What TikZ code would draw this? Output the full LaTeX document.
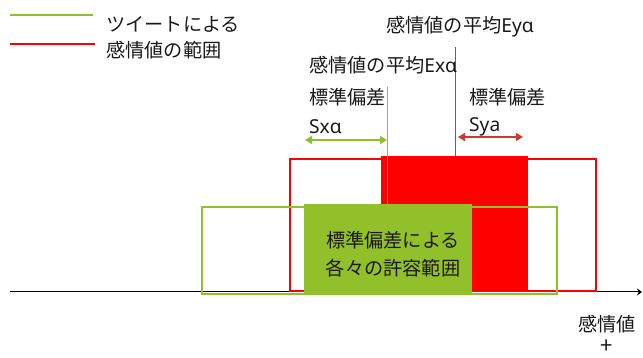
\documentclass[tikz,border=0pt]{standalone}
\usepackage{fontspec}
\setmainfont{Noto Sans CJK JP}
\newfontfamily\lt{Noto Sans}
\usetikzlibrary{arrows.meta}
\definecolor{grn}{RGB}{146,192,42}
\definecolor{rd}{RGB}{255,0,0}
\definecolor{drd}{RGB}{200,60,45}
\definecolor{txtc}{RGB}{25,25,25}
\begin{document}
\begin{tikzpicture}[x=1pt,y=-1pt,
  txt/.style={font=\fontsize{19.2}{22}\selectfont, inner sep=0pt, anchor=west, text=txtc},
  ctxt/.style={txt, anchor=center},
  tipg/.style={{Triangle[length=7pt,width=8pt]}-{Triangle[length=7pt,width=8pt]}}]
\useasboundingbox (0,0) rectangle (643,358);
% legend
\coordinate (lg0) at (10,15); \coordinate (lg1) at (93,15);
\coordinate (lr0) at (10,44); \coordinate (lr1) at (95,44);
\draw[grn, line width=1.2pt] (lg0) -- (lg1);
\draw[rd, line width=1.2pt] (lr0) -- (lr1);
\node[txt] (leg1) at (106,24) {ツイートによる};
\node[txt] (leg2) at (106,50) {感情値の範囲};
% axis
\coordinate (ax0) at (10,292); \coordinate (ax1) at (642,292);
\draw[black, line width=1pt, -{Stealth[length=5pt,width=7pt]}] (ax0) -- (ax1);
% red ranges
\draw[rd, line width=1.6pt] (290,159) rectangle (596,291);
\fill[rd] (381,156) rectangle (528,291);
% green outline
\draw[grn, line width=1.6pt] (202,207) rectangle (557,294);
% mean lines
\coordinate (gm0) at (387,87); \coordinate (gm1) at (387,204);
\draw[grn, line width=1pt] (gm0) -- (gm1);
\coordinate (rm0) at (455,47); \coordinate (rm1) at (455,156);
\draw[drd, line width=1pt] (rm0) -- (rm1);
% green filled box
\node[fill=grn, minimum width=168pt, minimum height=89pt, inner sep=0pt, anchor=north west] (gbox) at (304,204) {};
\node[align=center, font=\fontsize{19.2}{28}\selectfont, text=txtc, inner sep=0pt] (gtxt) at (393,254)
      {標準偏差による\\各々の許容範囲};
% arrows
\coordinate (ga0) at (305,140); \coordinate (ga1) at (387,140);
\draw[grn, line width=1.2pt, tipg] (ga0) -- (ga1);
\coordinate (ra0) at (458,137); \coordinate (ra1) at (523,137);
\draw[drd, line width=1.2pt, tipg] (ra0) -- (ra1);
% labels
\node[txt] (ey) at (386,27) {感情値の平均{\lt Eyα}};
\node[txt] (ex) at (309,65) {感情値の平均{\lt Exα}};
\node[txt] (sd1) at (309,97) {標準偏差};
\node[txt] (sx) at (309,127) {\lt Sxα};
\node[txt] (sd2) at (469,97) {標準偏差};
\node[txt] (sy) at (469,127) {\lt Sya};
\node[ctxt] (axl) at (607,324) {感情値};
\node[ctxt, font=\fontsize{22}{24}\selectfont] (plus) at (607,347) {+};
\end{tikzpicture}
\end{document}
